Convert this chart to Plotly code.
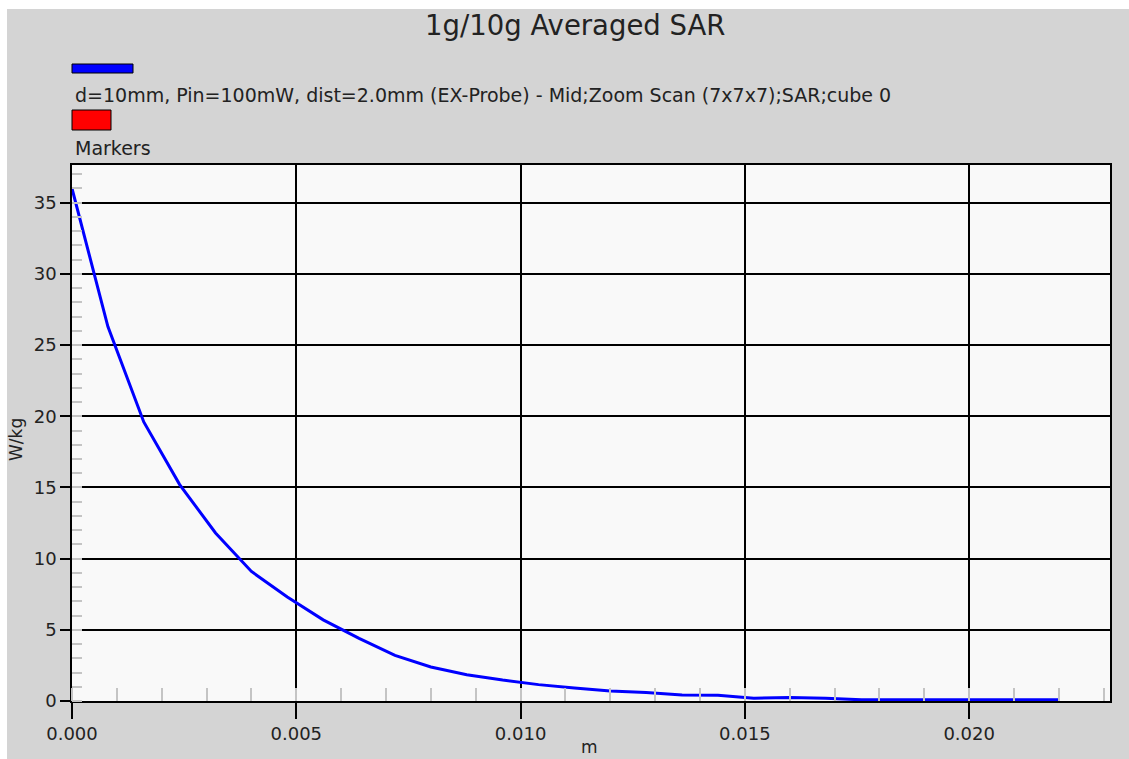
import plotly.graph_objects as go

# Distance from the phantom surface (m) and averaged SAR (W/kg)
distance_m = [0.0, 0.0008, 0.0016, 0.0024, 0.0032, 0.0040, 0.0048, 0.0056,
              0.0064, 0.0072, 0.0080, 0.0088, 0.0096, 0.0104, 0.0112, 0.0120,
              0.0128, 0.0136, 0.0144, 0.0152, 0.0160, 0.0168, 0.0176, 0.0184,
              0.0192, 0.0200, 0.0208, 0.0216, 0.0220]
sar_wkg = [36.0, 26.3, 19.6, 15.2, 11.8, 9.1, 7.3, 5.7,
           4.4, 3.2, 2.39, 1.85, 1.47, 1.15, 0.92, 0.70,
           0.60, 0.42, 0.40, 0.20, 0.24, 0.20, 0.08, 0.08,
           0.09, 0.09, 0.09, 0.09, 0.09]

series_name = "d=10mm, Pin=100mW, dist=2.0mm (EX-Probe) - Mid;Zoom Scan (7x7x7);SAR;cube 0"
marker_name = "Markers"
chart_title = "1g/10g Averaged SAR"
x_label = "m"
y_label = "W/kg"

x_ticks = [0.0, 0.005, 0.010, 0.015, 0.020]
x_ticktext = ["0.000", "0.005", "0.010", "0.015", "0.020"]
y_ticks = [0, 5, 10, 15, 20, 25, 30, 35]

W, H = 1129, 759
L, R, T, B = 72, 1110, 165, 701  # plot area in pixels
pw, ph = R - L, B - T


def px(x):
    return (x - L) / pw


def py(y):
    return (B - y) / ph


FONT = "DejaVu Sans"
TXT = "#222222"
GRAY = "#d4d4d4"

fig = go.Figure()
fig.add_trace(go.Scatter(
    x=distance_m, y=sar_wkg, mode="lines",
    line=dict(color="#0000ff", width=3),
    showlegend=False, hoverinfo="skip",
))

axis_common = dict(
    showline=True, linecolor="black", linewidth=1.5, mirror=True,
    showgrid=True, gridcolor="black", gridwidth=1.5,
    zeroline=False, ticks="outside", tickcolor="black", tickwidth=1.5,
    tickfont=dict(family=FONT, size=18, color=TXT),
)

fig.update_xaxes(
    range=[0, 0.02314], tickvals=x_ticks, ticktext=x_ticktext, ticklen=16,
    minor=dict(dtick=0.001, tick0=0, ticks="inside", ticklen=13,
               tickcolor="#c4c4c4", tickwidth=1.5, showgrid=False),
    **axis_common,
)
fig.update_yaxes(
    range=[0, 37.65], tickvals=y_ticks, ticklen=10,
    minor=dict(dtick=1, tick0=0, ticks="inside", ticklen=10,
               tickcolor="#c4c4c4", tickwidth=1.5, showgrid=False),
    **axis_common,
)

shapes = [
    # white strips along the top and left edges of the page
    dict(type="rect", xref="paper", yref="paper", x0=px(0), x1=px(W),
         y0=py(9), y1=py(0), fillcolor="white", line=dict(width=0), layer="below"),
    dict(type="rect", xref="paper", yref="paper", x0=px(0), x1=px(7),
         y0=py(H), y1=py(0), fillcolor="white", line=dict(width=0), layer="below"),
    # legend swatches
    dict(type="rect", xref="paper", yref="paper", x0=px(72), x1=px(133),
         y0=py(73), y1=py(64), fillcolor="#0000ff", line=dict(color="black", width=1)),
    dict(type="rect", xref="paper", yref="paper", x0=px(72), x1=px(111),
         y0=py(130), y1=py(110), fillcolor="#ff0000", line=dict(color="black", width=1)),
]

annotations = [
    dict(text=chart_title, x=px(575), y=py(25), xref="paper", yref="paper",
         xanchor="center", yanchor="middle", showarrow=False,
         font=dict(family=FONT, size=27.5, color=TXT)),
    dict(text=series_name, x=px(73), y=py(95), xref="paper", yref="paper",
         xanchor="left", yanchor="middle", showarrow=False,
         font=dict(family=FONT, size=19, color=TXT)),
    dict(text=marker_name, x=px(73), y=py(148), xref="paper", yref="paper",
         xanchor="left", yanchor="middle", showarrow=False,
         font=dict(family=FONT, size=19, color=TXT)),
    dict(text=y_label, x=px(16), y=py(440), xref="paper", yref="paper",
         xanchor="center", yanchor="middle", showarrow=False, textangle=-90,
         font=dict(family=FONT, size=17, color=TXT)),
    dict(text=x_label, x=px(589), y=py(759), xref="paper", yref="paper",
         xanchor="center", yanchor="bottom", showarrow=False,
         font=dict(family=FONT, size=17, color=TXT)),
]

fig.update_layout(
    width=W, height=H,
    margin=dict(l=L, r=W - R, t=T, b=H - B, pad=0),
    paper_bgcolor=GRAY, plot_bgcolor="#f9f9f9",
    shapes=shapes, annotations=annotations, showlegend=False,
)

fig.write_html("out.html", config={"displayModeBar": False})
